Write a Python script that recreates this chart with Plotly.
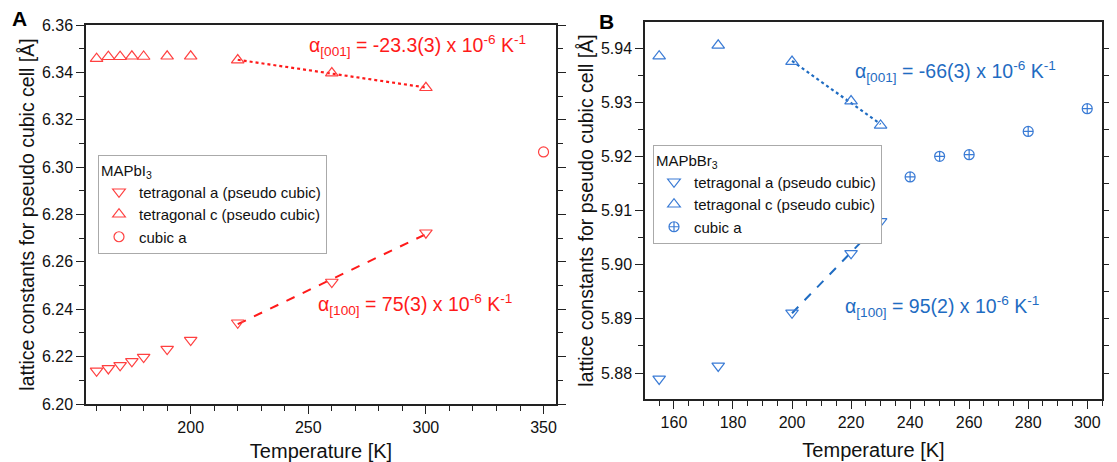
import numpy as np
import plotly.graph_objects as go

# ---------------- data ----------------
# Panel A: MAPbI3
a_T_tet = [160, 165, 170, 175, 180, 190, 200, 220, 260, 300]
a_tet_a = [6.2140, 6.2150, 6.2163, 6.2180, 6.2198, 6.2232, 6.2270, 6.2343, 6.2515, 6.2723]
a_tet_c = [6.3458, 6.3466, 6.3466, 6.3468, 6.3467, 6.3468, 6.3468, 6.3452, 6.3397, 6.3335]
a_T_cub = [350]
a_cub_a = [6.3064]
a_fit_T = [220, 260, 300]

# Panel B: MAPbBr3
b_T_tet = [155, 175, 200, 220, 230]
b_tet_a = [5.8789, 5.8813, 5.8911, 5.9021, 5.9080]
b_tet_c = [5.9385, 5.9405, 5.9375, 5.9302, 5.9257]
b_T_cub = [240, 250, 260, 280, 300]
b_cub_a = [5.9162, 5.9200, 5.9203, 5.9246, 5.9288]
b_fit_T = [200, 220, 230]

RED = "#ff1a1a"
RED_M = "#ff4040"
BLUE = "#1f6cc2"
BLUE_M = "#3a7bd5"
FONT = "Liberation Sans, Arial, sans-serif"


def fit_line(Ts, Tall, vals):
    y = [vals[Tall.index(t)] for t in Ts]
    p = np.polyfit(Ts, y, 1)
    xs = [min(Ts), max(Ts)]
    return xs, [p[0] * x + p[1] for x in xs]


fig = go.Figure()

# ---- Panel A ----
fx, fy = fit_line(a_fit_T, a_T_tet, a_tet_a)
fig.add_trace(go.Scatter(x=fx, y=fy, mode="lines", line=dict(color=RED, width=2, dash="dash"),
                         showlegend=False, xaxis="x", yaxis="y"))
fx, fy = fit_line(a_fit_T, a_T_tet, a_tet_c)
fig.add_trace(go.Scatter(x=fx, y=fy, mode="lines", line=dict(color=RED, width=2.2, dash="dot"),
                         showlegend=False, xaxis="x", yaxis="y"))
fig.add_trace(go.Scatter(x=a_T_tet, y=a_tet_a, mode="markers", name="tetragonal a (pseudo cubic)",
                         marker=dict(symbol="triangle-down-open", size=11, color=RED_M, line=dict(width=1.2)),
                         legend="legend", xaxis="x", yaxis="y"))
fig.add_trace(go.Scatter(x=a_T_tet, y=a_tet_c, mode="markers", name="tetragonal c (pseudo cubic)",
                         marker=dict(symbol="triangle-up-open", size=11, color=RED_M, line=dict(width=1.2)),
                         legend="legend", xaxis="x", yaxis="y"))
fig.add_trace(go.Scatter(x=a_T_cub, y=a_cub_a, mode="markers", name="cubic a",
                         marker=dict(symbol="circle-open", size=10, color=RED_M, line=dict(width=1.2)),
                         legend="legend", xaxis="x", yaxis="y"))

# ---- Panel B ----
fx, fy = fit_line(b_fit_T, b_T_tet, b_tet_a)
fig.add_trace(go.Scatter(x=fx, y=fy, mode="lines", line=dict(color=BLUE, width=2, dash="dash"),
                         showlegend=False, xaxis="x2", yaxis="y2"))
fx, fy = fit_line(b_fit_T, b_T_tet, b_tet_c)
fig.add_trace(go.Scatter(x=fx, y=fy, mode="lines", line=dict(color=BLUE, width=2.2, dash="dot"),
                         showlegend=False, xaxis="x2", yaxis="y2"))
fig.add_trace(go.Scatter(x=b_T_tet, y=b_tet_a, mode="markers", name="tetragonal a (pseudo cubic)",
                         marker=dict(symbol="triangle-down-open", size=11, color=BLUE_M, line=dict(width=1.2)),
                         legend="legend2", xaxis="x2", yaxis="y2"))
fig.add_trace(go.Scatter(x=b_T_tet, y=b_tet_c, mode="markers", name="tetragonal c (pseudo cubic)",
                         marker=dict(symbol="triangle-up-open", size=11, color=BLUE_M, line=dict(width=1.2)),
                         legend="legend2", xaxis="x2", yaxis="y2"))
fig.add_trace(go.Scatter(x=b_T_cub, y=b_cub_a, mode="markers", name="cubic a",
                         marker=dict(symbol="circle-cross-open", size=10, color=BLUE_M, line=dict(width=1.2)),
                         legend="legend2", xaxis="x2", yaxis="y2"))

# page has an 8px body margin; design in screen pixels and convert
OFF = 8
W, H = 1117 - OFF, 462 - OFF


def px(s):
    return (s - OFF) / W


def py(s):
    return 1 - (s - OFF) / H


axis_common = dict(showline=True, linecolor="#222", linewidth=1.5, ticks="outside", ticklen=8,
                   tickwidth=1.3, tickcolor="#222", showgrid=False, zeroline=False, automargin=False,
                   tickfont=dict(size=16, color="#111", family=FONT))
ytitle = "lattice constants for pseudo cubic cell [Å]"

fig.update_layout(
    width=W, height=H, margin=dict(l=0, r=0, t=0, b=0, autoexpand=False),
    paper_bgcolor="white", plot_bgcolor="white",
    font=dict(family=FONT, color="#111"),
    xaxis=dict(axis_common, domain=[px(86), px(556)], range=[155.5, 355.3], dtick=50, tick0=0,
               mirror=True, anchor="y",
               minor=dict(dtick=10, ticklen=5, ticks="outside", tickcolor="#222", tickwidth=1.2),
               title=dict(text="Temperature [K]", font=dict(size=20), standoff=13)),
    yaxis=dict(axis_common, domain=[py(404), py(25)], range=[6.20, 6.36], dtick=0.02,
               tickformat=".2f", mirror="ticks", anchor="x",
               minor=dict(dtick=0.01, ticklen=5, ticks="outside", tickcolor="#222", tickwidth=1.2),
               title=dict(text=ytitle, font=dict(size=19.5), standoff=2)),
    xaxis2=dict(axis_common, domain=[px(645), px(1102)], range=[150.2, 305], dtick=20, tick0=0,
                mirror=True, anchor="y2",
                minor=dict(dtick=5, ticklen=5, ticks="outside", tickcolor="#222", tickwidth=1.2),
                title=dict(text="Temperature [K]", font=dict(size=20), standoff=13)),
    yaxis2=dict(axis_common, domain=[py(399), py(22)], range=[5.8752, 5.9448], dtick=0.01,
                tickformat=".2f", mirror="ticks", anchor="x2",
                minor=dict(dtick=0.005, ticklen=5, ticks="outside", tickcolor="#222", tickwidth=1.2),
                title=dict(text=ytitle, font=dict(size=19.5), standoff=2)),
    legend=dict(x=px(98), y=py(155), xanchor="left", yanchor="top",
                bgcolor="white", bordercolor="#aaa", borderwidth=1,
                font=dict(size=15, family=FONT, color="#111"),
                title=dict(text="MAPbI<sub>3</sub>", font=dict(size=15)),
                tracegroupgap=0, itemwidth=30),
    legend2=dict(x=px(653), y=py(145), xanchor="left", yanchor="top",
                 bgcolor="white", bordercolor="#aaa", borderwidth=1,
                 font=dict(size=15, family=FONT, color="#111"),
                 title=dict(text="MAPbBr<sub>3</sub>", font=dict(size=15)),
                 tracegroupgap=0, itemwidth=30),
)

ann = [
    ("α<sub>[001]</sub> = -23.3(3) x 10<sup>-6</sup> K<sup>-1</sup>", 307, 46, RED),
    ("α<sub>[100]</sub> = 75(3) x 10<sup>-6</sup> K<sup>-1</sup>", 316, 304, RED),
    ("α<sub>[001]</sub> = -66(3) x 10<sup>-6</sup> K<sup>-1</sup>", 853, 72, BLUE),
    ("α<sub>[100]</sub> = 95(2) x 10<sup>-6</sup> K<sup>-1</sup>", 843, 306, BLUE),
]
for text, sx, sy, col in ann:
    fig.add_annotation(text=text, x=px(sx), y=py(sy), xref="paper", yref="paper",
                       xanchor="left", yanchor="middle", showarrow=False,
                       font=dict(size=19.5, color=col, family=FONT))

fig.add_annotation(text="<b>A</b>", x=px(10), y=py(19), xref="paper", yref="paper",
                   xanchor="left", yanchor="middle", showarrow=False, font=dict(size=21, color="#000"))
fig.add_annotation(text="<b>B</b>", x=px(597), y=py(21), xref="paper", yref="paper",
                   xanchor="left", yanchor="middle", showarrow=False, font=dict(size=21, color="#000"))

fig.write_html("out.html")
